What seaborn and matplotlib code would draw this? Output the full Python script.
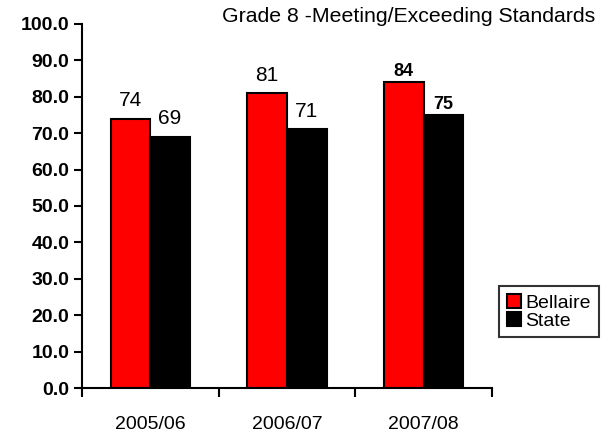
import numpy as np
import pandas as pd
import matplotlib
matplotlib.use("Agg")
import matplotlib.pyplot as plt
import seaborn as sns
from matplotlib.ticker import FixedLocator, FormatStrFormatter

years = ["2005/06", "2006/07", "2007/08"]
bellaire = [74, 81, 84]
state = [69, 71, 75]
series_names = ["Bellaire", "State"]
bold_labels = [False, False, True]

df = pd.DataFrame({
    "year": years * 2,
    "school": [series_names[0]] * 3 + [series_names[1]] * 3,
    "pct": bellaire + state,
})

sns.set_style("white")
plt.rcParams["font.family"] = ["Liberation Sans", "DejaVu Sans"]
plt.rcParams["text.color"] = "black"
plt.rcParams["xtick.color"] = "black"
plt.rcParams["ytick.color"] = "black"

fig = plt.figure(figsize=(6.06, 4.42), dpi=100)
ax = fig.add_axes([0.135, 0.122, 0.677, 0.824])

sns.barplot(data=df, x="year", y="pct", hue="school",
            palette=["#ff0000", "#000000"], saturation=1, width=0.58,
            edgecolor="black", linewidth=1.5, ax=ax, legend=True)

# value labels above bars
for cont in ax.containers:
    for i, bar in enumerate(cont):
        h = bar.get_height()
        if bold_labels[i]:
            ax.text(bar.get_x() + bar.get_width() / 2, h + 0.5, f"{h:.0f}",
                    ha="center", va="bottom", fontsize=13, fontweight="bold")
        else:
            ax.text(bar.get_x() + bar.get_width() / 2, h + 2.3, f"{h:.0f}",
                    ha="center", va="bottom", fontsize=15)

ax.set_xlim(-0.5, 2.5)
ax.set_ylim(0, 100)
ax.set_yticks(np.arange(0, 101, 10))
ax.yaxis.set_major_formatter(FormatStrFormatter("%.1f"))
ax.set_xlabel("")
ax.set_ylabel("")

ax.xaxis.set_minor_locator(FixedLocator([-0.5, 0.5, 1.5, 2.5]))
ax.tick_params(axis="x", which="major", length=0, labelsize=14, pad=20)
ax.tick_params(axis="x", which="minor", length=6.5, width=1.5, direction="out", bottom=True)
ax.tick_params(axis="y", length=6, width=1.5, direction="out", left=True, labelsize=14, pad=3)
for lab in ax.get_yticklabels():
    lab.set_fontweight("bold")

sns.despine(ax=ax, top=True, right=True)
for sp in ["left", "bottom"]:
    ax.spines[sp].set_linewidth(1.5)
    ax.spines[sp].set_color("black")

leg = ax.legend(loc="upper left", bbox_to_anchor=(1.017, 0.28), fontsize=14,
                frameon=True, fancybox=False, edgecolor="black",
                handlelength=0.75, handleheight=0.75, handletextpad=0.2,
                borderpad=0.4, labelspacing=0.0, borderaxespad=0)
leg.get_frame().set_linewidth(1.5)

fig.text(0.982, 0.962, "Grade 8 -Meeting/Exceeding Standards", ha="right",
         va="center", fontsize=15.3)

fig.savefig("out.png", dpi=100)
